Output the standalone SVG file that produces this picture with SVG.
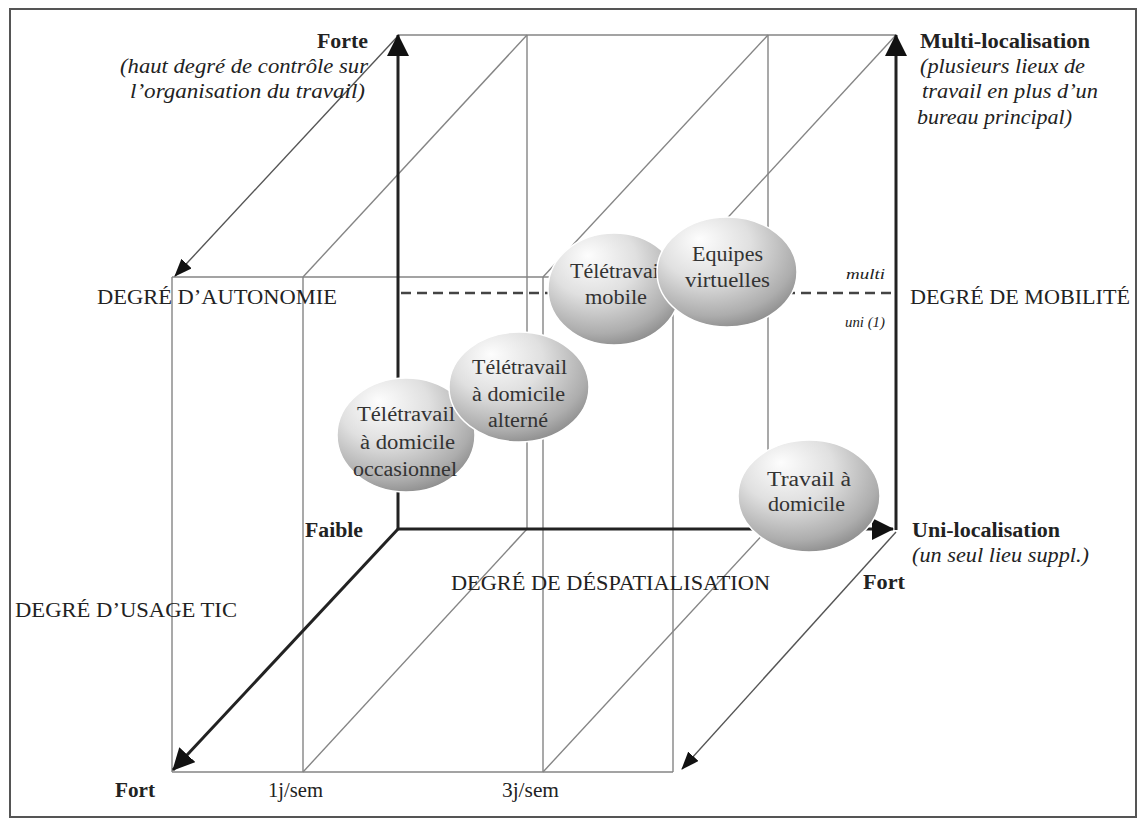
<svg xmlns="http://www.w3.org/2000/svg" width="1141" height="821" viewBox="0 0 1141 821">
<style>
.t{font-family:"Liberation Serif","Times New Roman",serif;fill:#222;}
.b{font-weight:bold;font-size:20px;}
.i{font-style:italic;font-size:20px;}
.c{font-size:21px;}
.n{font-size:20px;}
.s{font-style:italic;font-size:15px;}
.w{fill:#333;font-size:20px;}
.thin{stroke:#858585;stroke-width:1.4;fill:none;}
.thick{stroke:#222;stroke-width:3;fill:none;}
.dash{stroke:#444;stroke-width:2.5;stroke-dasharray:10 6;fill:none;}
.arr{stroke:#555;stroke-width:1.4;fill:none;}
.bub{fill:url(#g);stroke:#fff;stroke-width:1.5;}
</style>
<defs>
<radialGradient id="g" cx="0.4" cy="0.3" r="0.72" fx="0.3" fy="0.2">
<stop offset="0" stop-color="#fdfdfd"/>
<stop offset="0.45" stop-color="#e0e0e0"/>
<stop offset="0.85" stop-color="#adadad"/>
<stop offset="1" stop-color="#8f8f8f"/>
</radialGradient>
<marker id="mk" viewBox="0 0 22 22" markerWidth="22" markerHeight="22" refX="21" refY="11" orient="auto" markerUnits="userSpaceOnUse">
<path d="M0,0 L22,11 L0,22 Z" fill="#111"/>
</marker>
<marker id="ms" viewBox="0 0 18 14" markerWidth="18" markerHeight="14" refX="17" refY="7" orient="auto" markerUnits="userSpaceOnUse">
<path d="M0,0 L18,7 L0,14 Z" fill="#111"/>
</marker>
</defs>
<rect x="0" y="0" width="1141" height="821" fill="#fff"/>
<rect x="10" y="9" width="1126" height="808" fill="none" stroke="#555" stroke-width="2"/>

<g id="connectors">
<line class="thin" x1="398" y1="35" x2="896" y2="35"/>
<line class="thin" x1="527" y1="35" x2="527" y2="529"/>
<line class="thin" x1="768" y1="35" x2="768" y2="529"/>
<line class="thin" x1="527" y1="35" x2="303" y2="277"/>
<line class="thin" x1="768" y1="35" x2="543" y2="277"/>
<line class="thin" x1="896" y1="35" x2="673" y2="277"/>
<line class="thin" x1="172" y1="277" x2="673" y2="277"/>
<line class="thin" x1="172" y1="277" x2="172" y2="772"/>
<line class="thin" x1="303" y1="277" x2="303" y2="772"/>
<line class="thin" x1="543" y1="277" x2="543" y2="772"/>
<line class="thin" x1="673" y1="277" x2="673" y2="772"/>
<line class="thin" x1="172" y1="772" x2="673" y2="772"/>
<line class="thin" x1="527" y1="529" x2="303" y2="772"/>
<line class="thin" x1="768" y1="529" x2="543" y2="772"/>
<line class="arr" x1="398" y1="36" x2="175" y2="276" marker-end="url(#ms)"/>
<line class="arr" x1="896" y1="532" x2="682" y2="769" marker-end="url(#ms)"/>
<line class="dash" x1="401" y1="293" x2="894" y2="293"/>
<line class="thick" x1="398" y1="529" x2="398" y2="35" marker-end="url(#mk)"/>
<line class="thick" x1="896" y1="530" x2="896" y2="35" marker-end="url(#mk)"/>
<line class="thick" x1="398" y1="529" x2="173" y2="770" marker-end="url(#mk)"/>
<line class="thick" x1="398" y1="529" x2="893" y2="529" marker-end="url(#mk)"/>
</g>

<g id="node-occasionnel" font-family="Liberation Serif, Times New Roman, serif">
<ellipse class="bub" cx="406" cy="435" rx="69" ry="57"/>
<text class="t w" x="357" y="421" textLength="98" lengthAdjust="spacingAndGlyphs">Télétravail</text>
<text class="t w" x="360" y="449" textLength="95" lengthAdjust="spacingAndGlyphs">à domicile</text>
<text class="t w" x="353" y="476" textLength="104" lengthAdjust="spacingAndGlyphs">occasionnel</text>
</g>
<g id="node-alterne" font-family="Liberation Serif, Times New Roman, serif">
<ellipse class="bub" cx="519" cy="387" rx="70" ry="55"/>
<text class="t w" x="472" y="374" textLength="95" lengthAdjust="spacingAndGlyphs">Télétravail</text>
<text class="t w" x="472" y="401" textLength="93" lengthAdjust="spacingAndGlyphs">à domicile</text>
<text class="t w" x="488" y="427" textLength="60" lengthAdjust="spacingAndGlyphs">alterné</text>
</g>
<g id="node-mobile" font-family="Liberation Serif, Times New Roman, serif">
<ellipse class="bub" cx="614" cy="289" rx="66" ry="56"/>
<text class="t w" x="570" y="278" textLength="95" lengthAdjust="spacingAndGlyphs">Télétravail</text>
<text class="t w" x="585" y="304" textLength="62" lengthAdjust="spacingAndGlyphs">mobile</text>
</g>
<g id="node-equipes" font-family="Liberation Serif, Times New Roman, serif">
<ellipse class="bub" cx="727" cy="272" rx="70" ry="55"/>
<text class="t w" x="692" y="261" textLength="71" lengthAdjust="spacingAndGlyphs">Equipes</text>
<text class="t w" x="685" y="287" textLength="85" lengthAdjust="spacingAndGlyphs">virtuelles</text>
</g>
<g id="node-travail" font-family="Liberation Serif, Times New Roman, serif">
<ellipse class="bub" cx="809" cy="496" rx="71" ry="56"/>
<text class="t w" x="767" y="486" textLength="84" lengthAdjust="spacingAndGlyphs">Travail à</text>
<text class="t w" x="768" y="511" textLength="77" lengthAdjust="spacingAndGlyphs">domicile</text>
</g>

<g id="labels">
<text class="t b" x="317" y="48" textLength="51" lengthAdjust="spacingAndGlyphs">Forte</text>
<text class="t i" x="120" y="73" textLength="248" lengthAdjust="spacingAndGlyphs">(haut degré de contrôle sur</text>
<text class="t i" x="130" y="98" textLength="235" lengthAdjust="spacingAndGlyphs">l’organisation du travail)</text>
<text class="t b" x="920" y="48" textLength="170" lengthAdjust="spacingAndGlyphs">Multi-localisation</text>
<text class="t i" x="920" y="73" textLength="165" lengthAdjust="spacingAndGlyphs">(plusieurs lieux de</text>
<text class="t i" x="922" y="98" textLength="176" lengthAdjust="spacingAndGlyphs">travail en plus d’un</text>
<text class="t i" x="917" y="124" textLength="155" lengthAdjust="spacingAndGlyphs">bureau principal)</text>
<text class="t c" x="97" y="304" textLength="240" lengthAdjust="spacingAndGlyphs">DEGRÉ D’AUTONOMIE</text>
<text class="t c" x="910" y="304" textLength="220" lengthAdjust="spacingAndGlyphs">DEGRÉ DE MOBILITÉ</text>
<text class="t s" x="846" y="279" textLength="39" lengthAdjust="spacingAndGlyphs">multi</text>
<text class="t s" x="845" y="327" textLength="40" lengthAdjust="spacingAndGlyphs">uni (1)</text>
<text class="t b" x="305" y="537" textLength="58" lengthAdjust="spacingAndGlyphs">Faible</text>
<text class="t b" x="912" y="537" textLength="148" lengthAdjust="spacingAndGlyphs">Uni-localisation</text>
<text class="t i" x="912" y="562" textLength="177" lengthAdjust="spacingAndGlyphs">(un seul lieu suppl.)</text>
<text class="t b" x="863" y="589" textLength="42" lengthAdjust="spacingAndGlyphs">Fort</text>
<text class="t c" x="451" y="590" textLength="319" lengthAdjust="spacingAndGlyphs">DEGRÉ DE DÉSPATIALISATION</text>
<text class="t c" x="15" y="617" textLength="222" lengthAdjust="spacingAndGlyphs">DEGRÉ D’USAGE TIC</text>
<text class="t b" x="115" y="797" textLength="40" lengthAdjust="spacingAndGlyphs">Fort</text>
<text class="t n" x="268" y="797" textLength="55" lengthAdjust="spacingAndGlyphs">1j/sem</text>
<text class="t n" x="502" y="797" textLength="57" lengthAdjust="spacingAndGlyphs">3j/sem</text>
</g>
</svg>
